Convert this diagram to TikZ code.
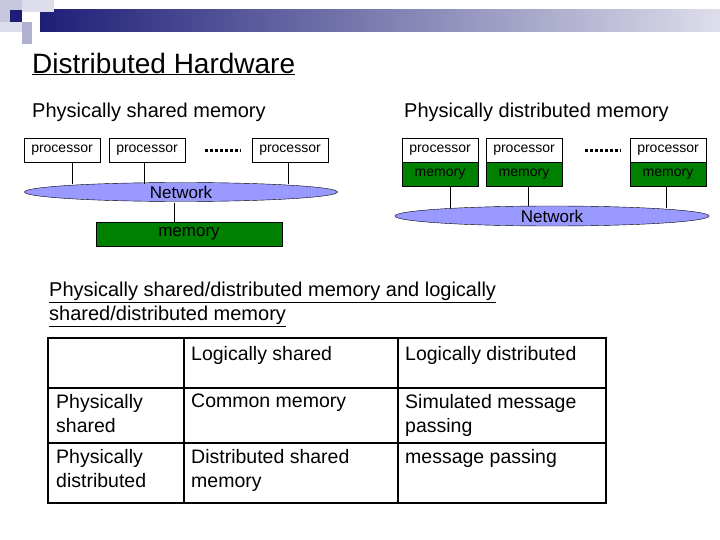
\documentclass[tikz,border=0pt]{standalone}
\usepackage{fontspec}
\setmainfont{Liberation Sans}
\usetikzlibrary{positioning,shapes.geometric}
\definecolor{netblue}{RGB}{153,153,255}
\definecolor{memgreen}{RGB}{0,128,0}
\definecolor{navy}{RGB}{30,30,120}
\tikzset{
  proc/.style={draw, fill=white, minimum width=76pt, minimum height=24pt, inner sep=0pt, font=\fontsize{14}{14}\selectfont},
  mem/.style={draw, fill=memgreen, minimum width=76pt, minimum height=24pt, inner sep=0pt, font=\fontsize{14}{14}\selectfont},
  net/.style={draw, ellipse, fill=netblue, inner sep=0pt, font=\fontsize{17}{17}\selectfont},
  txt/.style={anchor=west, inner sep=0pt, font=\fontsize{20}{24}\selectfont},
  cell/.style={anchor=north west, inner sep=0pt, align=left, font=\fontsize{19.5}{24}\selectfont},
}
\begin{document}
\begin{tikzpicture}[x=1pt, y=-1pt]
  \useasboundingbox (0,0) rectangle (720,540);

  % banner
  \shade[left color=navy, right color=navy!15] (40,10) rectangle (720,32);
  \fill[navy!25] (0,0) rectangle (22,22);
  \fill[navy!15] (22,0) rectangle (54,12);
  \fill[navy] (10,10) rectangle (22,22);
  \fill[navy!35] (22,22) rectangle (32,44);
  \fill[navy!15] (0,22) rectangle (22,32);

  % headings
  \node[txt, font=\fontsize{28}{28}\selectfont] (title) at (32,64) {\underline{Distributed Hardware}};
  \node[txt] (hshared) at (32,112) {Physically shared memory};
  \node[txt] (hdist) at (404,112) {Physically distributed memory};

  % physically shared memory
  \node[proc] (p1) at (62,150) {processor};
  \node[proc] (p2) at (147,150) {processor};
  \node[proc] (p3) at (290,150) {processor};
  \draw[line width=3pt, dash pattern=on 3pt off 2pt] (205,151) -- (241,151);
  \node[net, minimum width=313pt, minimum height=19pt] (net1) at (181,192) {Network};
  \node[mem, minimum width=186pt, font=\fontsize{17}{17}\selectfont] (m0) at (189,234) {memory};
  \foreach \p/\x in {p1/72, p2/144, p3/288}
    \draw (\p.south -| \x,0) -- (\x,184);
  \draw (174,203) -- (m0.north -| 174,0);

  % physically distributed memory
  \node[proc] (q1) at (440,150) {processor};
  \node[mem, below=0pt of q1] (n1) {memory};
  \node[proc] (q2) at (524,150) {processor};
  \node[mem, below=0pt of q2] (n2) {memory};
  \node[proc] (q3) at (668,150) {processor};
  \node[mem, below=0pt of q3] (n3) {memory};
  \draw[line width=3pt, dash pattern=on 3pt off 2pt] (585,151) -- (621,151);
  \foreach \n/\x in {n1/450, n2/528, n3/666}
    \draw (\n.south -| \x,0) -- (\x,208);
  \node[net, minimum width=314pt, minimum height=20pt] (net2) at (552,216) {Network};

  % table
  \node[txt, anchor=north west, align=left] (sub) at (49,282) {\underline{Physically shared/distributed memory and logically}\\\underline{shared/distributed memory}};
  \draw[line width=1.5pt] (48,338) rectangle (606,503);
  \draw[line width=1.5pt] (184,338) -- (184,503) (398,338) -- (398,503);
  \draw[line width=1.5pt] (48,388) -- (606,388) (48,443) -- (606,443);
  \node[cell] (c12) at (191,346) {Logically shared};
  \node[cell] (c13) at (405,346) {Logically distributed};
  \node[cell] (c21) at (56,394) {Physically\\shared};
  \node[cell] (c22) at (191,394) {Common memory};
  \node[cell] (c23) at (405,394) {Simulated message\\passing};
  \node[cell] (c31) at (56,449) {Physically\\distributed};
  \node[cell] (c32) at (191,449) {Distributed shared\\memory};
  \node[cell] (c33) at (405,449) {message passing};
\end{tikzpicture}
\end{document}
